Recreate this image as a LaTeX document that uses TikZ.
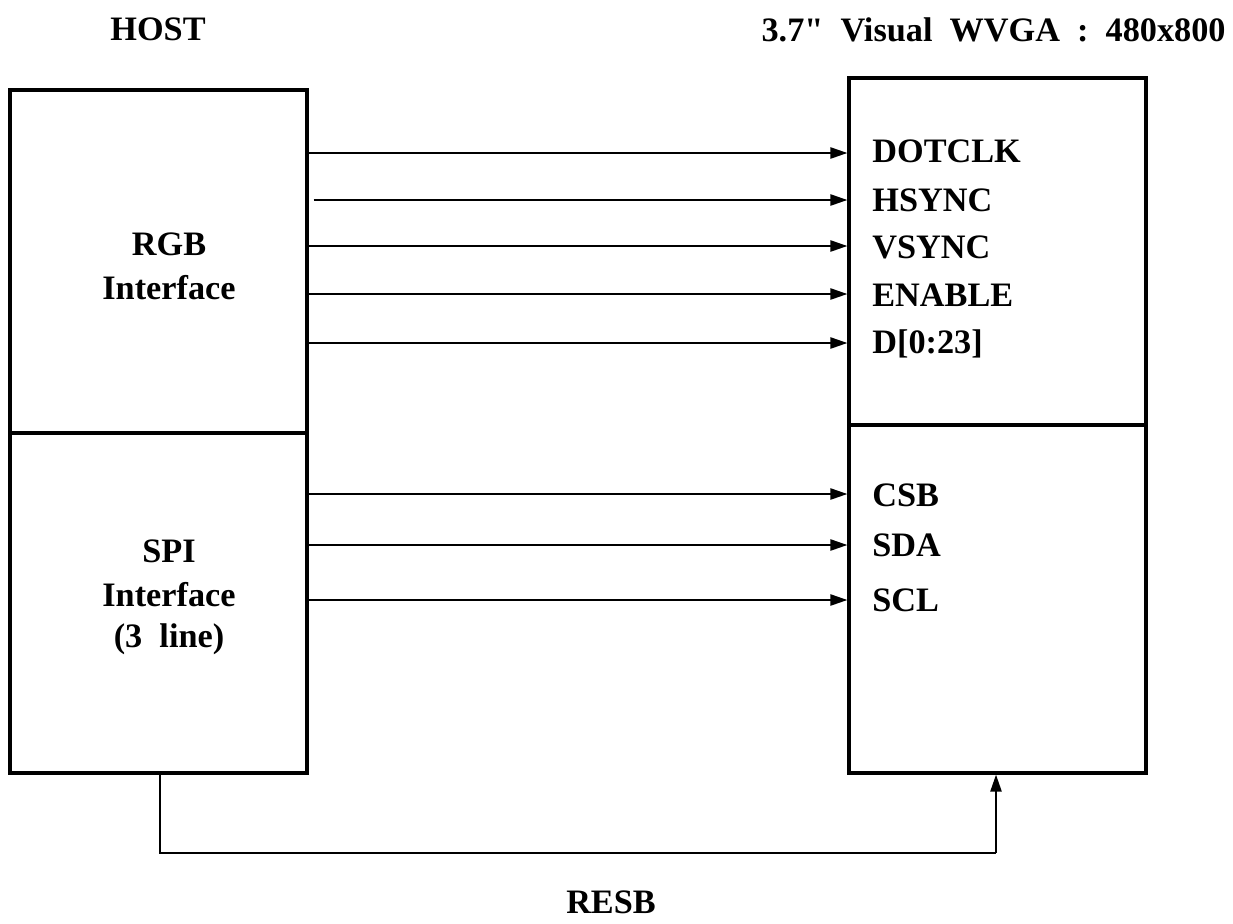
\documentclass[tikz,border=0pt]{standalone}
\usepackage{fontspec}
\setmainfont{Liberation Serif}[Ligatures=TeXOff]
\usetikzlibrary{arrows.meta,positioning,calc}
\tikzset{
    blk/.style={draw, line width=1.8pt, minimum width=5.94cm, inner sep=0pt},
    sig/.style={anchor=west, inner sep=0pt, font=\sigfont},
    lbl/.style={inner sep=0pt, font=\sigfont},
    wire/.style={line width=1.3pt, -{Triangle[length=0.34cm,width=0.22cm]}},
}
\newcommand{\sigfont}{\fontsize{19.5}{24}\selectfont\bfseries}

\begin{document}
\begin{tikzpicture}[x=0.02cm, y=-0.02cm]
    \useasboundingbox (0,0) rectangle (1233,923);

    % headings
    \node[lbl] (host) at (158,29) {HOST};
    \node[lbl, anchor=east] (title) at (1226,30) {3.7"\ \ Visual\ \ WVGA\ \ :\ \ 480x800};

    % host side
    \node[blk, minimum height=6.86cm] (rgb) at (158.5,261.5) {};
    \node[blk, minimum height=6.80cm] (spi) at (158.5,603) {};
    \node[lbl] (rgbtxt1) at (169,244) {RGB};
    \node[lbl] (rgbtxt2) at (169,288) {Interface};
    \node[lbl] (spitxt1) at (169,551) {SPI};
    \node[lbl] (spitxt2) at (169,595) {Interface};
    \node[lbl] (spitxt3) at (169,639) {(3\ \ line)};

    % panel side
    \node[blk, minimum height=6.94cm] (disp) at (997.5,251.5) {};
    \node[blk, minimum height=6.96cm] (ser) at (997.5,599) {};

    % signals
    \node[sig] (dotclk) at (872,151) {DOTCLK};
    \node[sig] (hsync) at (872,200) {HSYNC};
    \node[sig] (vsync) at (872,247) {VSYNC};
    \node[sig] (enable) at (872,295) {ENABLE};
    \node[sig] (data) at (872,344) {D[0:23]};
    \node[sig] (csb) at (872,495) {CSB};
    \node[sig] (sda) at (872,545) {SDA};
    \node[sig] (scl) at (872,600) {SCL};

    \draw[wire] (rgb.east |- 0,153) -- (disp.west |- 0,153);
    \draw[wire] ($(rgb.east |- hsync)+(5,0)$) -- (disp.west |- hsync);
    \draw[wire] (rgb.east |- 0,246) -- (disp.west |- 0,246);
    \draw[wire] (rgb.east |- 0,294) -- (disp.west |- 0,294);
    \draw[wire] (rgb.east |- 0,343) -- (disp.west |- 0,343);
    \draw[wire] (spi.east |- 0,494) -- (ser.west |- 0,494);
    \draw[wire] (spi.east |- sda) -- (ser.west |- sda);
    \draw[wire] (spi.east |- scl) -- (ser.west |- scl);

    % reset
    \coordinate (rsta) at (160,853);
    \coordinate (rstb) at (996,853);
    \node[lbl] (resb) at (611,902) {RESB};
    \draw[line width=1.6pt] (spi.south -| rsta) -- (rsta) -- (rstb);
    \draw[wire] (rstb) -- (ser.south -| rstb);
\end{tikzpicture}
\end{document}
